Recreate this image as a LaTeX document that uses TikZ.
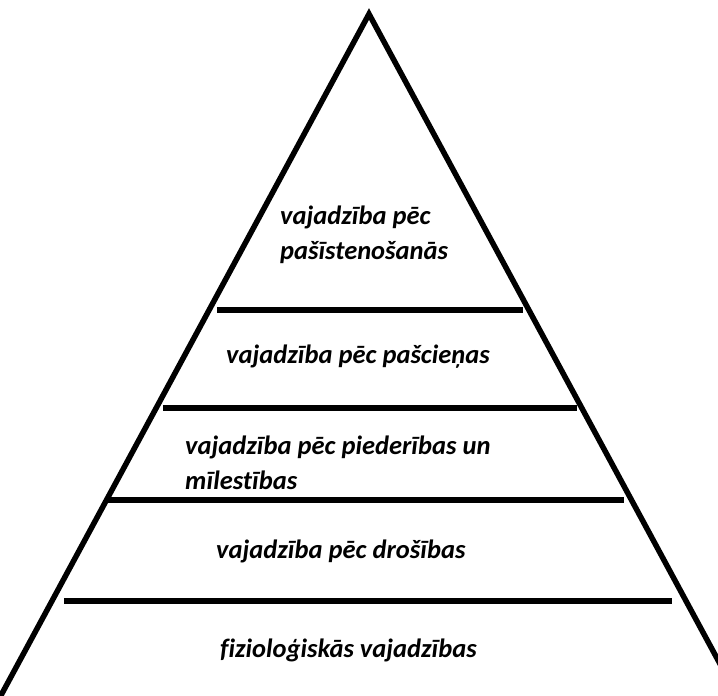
\documentclass[tikz,border=0pt]{standalone}
\usepackage{fontspec}
\setmainfont[Ligatures={NoCommon}]{Carlito}
\begin{document}
\begin{tikzpicture}[x=1pt,y=-1pt,
  edge/.style={line width=5.5pt,line cap=round,line join=miter},
  level/.style={font=\fontsize{26.5}{35}\selectfont\bfseries\itshape,inner sep=0pt}]
\useasboundingbox (0,0) rectangle (718,696);
% outline of the pyramid
\coordinate (apex) at (369,14);
\coordinate (bl) at (-8,712);
\coordinate (br) at (746,712);
\draw[edge] (bl) -- (apex) -- (br);
% dividers between the levels
\coordinate (l1a) at (217,310); \coordinate (l1b) at (523,310);
\coordinate (l2a) at (163,408); \coordinate (l2b) at (577,408);
\coordinate (l3a) at (105,500); \coordinate (l3b) at (624,500);
\coordinate (l4a) at (64,601);  \coordinate (l4b) at (672,601);
\draw[edge,line cap=butt] (l1a) -- (l1b);
\draw[edge,line cap=butt] (l2a) -- (l2b);
\draw[edge,line cap=butt] (l3a) -- (l3b);
\draw[edge,line cap=butt] (l4a) -- (l4b);
% level labels
\node[level,align=left,anchor=west] (t1) at (280,235) {vajadzība pēc\\pašīstenošanās};
\node[level,anchor=west] (t2) at (226,357) {vajadzība pēc pašcieņas};
\node[level,align=left,anchor=west] (t3) at (185,463) {vajadzība pēc piederības un\\mīlestības};
\node[level,anchor=west] (t4) at (216,551) {vajadzība pēc drošības};
\node[level,anchor=west] (t5) at (220,650) {fizioloģiskās vajadzības};
\end{tikzpicture}
\end{document}
